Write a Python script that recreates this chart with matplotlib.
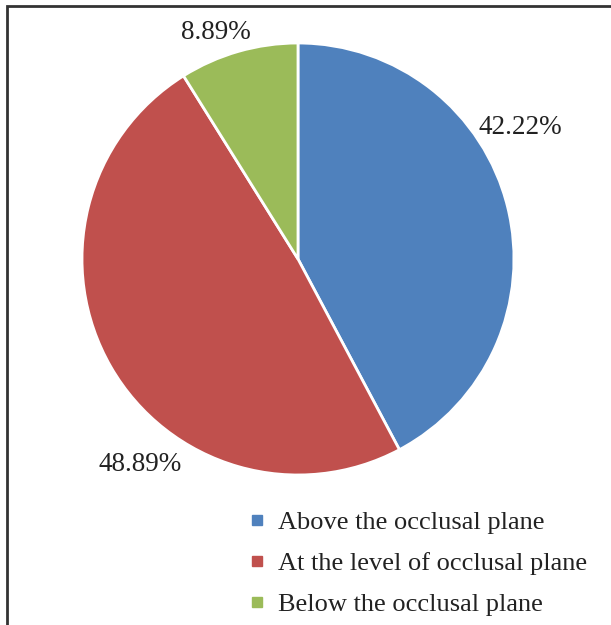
import matplotlib.pyplot as plt
from matplotlib.patches import Rectangle
from matplotlib.lines import Line2D

categories = ['Above the occlusal plane', 'At the level of occlusal plane', 'Below the occlusal plane']
values = [42.22, 48.89, 8.89]
colors = ['#4F81BD', '#C0504D', '#9BBB59']
# label positions (in pie radius units), placed like Excel's "best fit"
label_pos = [(1.03, 0.61), (-0.73, -0.95), (-0.38, 1.05)]

plt.rcParams['font.family'] = ['Liberation Serif', 'DejaVu Serif']

fig = plt.figure(figsize=(6.11, 6.25), dpi=100)
ax = fig.add_axes([0.0635, 0.1709, 0.8484, 0.8294])

ax.pie(values, colors=colors, startangle=90, counterclock=False,
       wedgeprops=dict(edgecolor='white', linewidth=2))
ax.set_xlim(-1.2, 1.2)
ax.set_ylim(-1.2, 1.2)
ax.set_aspect('equal')
ax.axis('off')

for v, (x, y) in zip(values, label_pos):
    ax.text(x, y, f'{v:.2f}%', ha='center', va='center', fontsize=19.5,
            color='#222222', clip_on=False)

# legend
handles = [Line2D([0], [0], marker='s', linestyle='none', markersize=7.5,
                  markerfacecolor=c, markeredgecolor=c) for c in colors]
fig.legend(handles, categories, loc='upper left', bbox_to_anchor=(0.382, 0.2046),
           frameon=False, fontsize=19, handlelength=0.8, handletextpad=0.4,
           labelspacing=0.67, borderpad=0, labelcolor='#222222')

# outer frame (right and bottom edges fall outside the image)
fig.add_artist(Rectangle((7 / 611, -0.1), 1.2, 0.9904 + 0.1, transform=fig.transFigure,
                         fill=False, edgecolor='#333333', linewidth=2, clip_on=False))

fig.savefig('out.png', dpi=100)
